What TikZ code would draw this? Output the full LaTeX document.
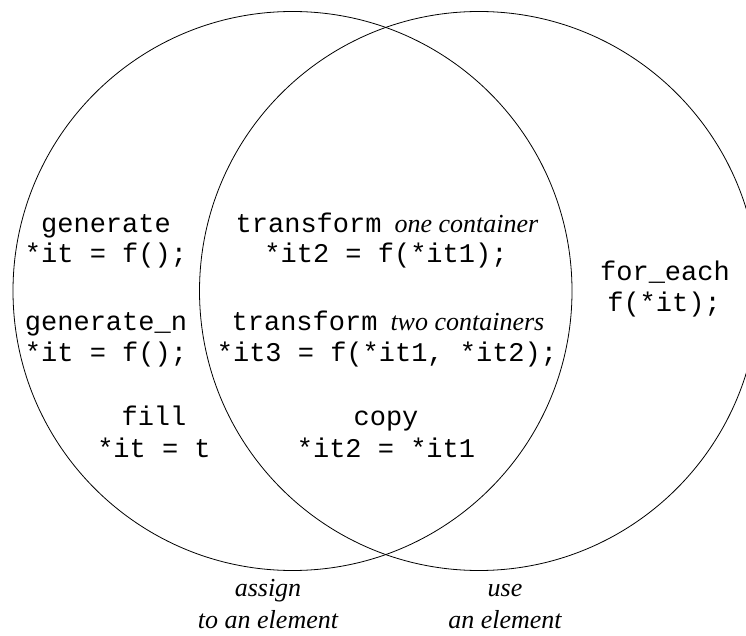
\documentclass[tikz,border=0pt]{standalone}
\usepackage{fontspec}
\setmainfont{Liberation Serif}
\setmonofont{Liberation Mono}
\newcommand{\venitalic}[1]{{\fontsize{26}{33}\selectfont\rmfamily\itshape #1}}
\tikzset{
  codetxt/.style={font=\fontsize{27}{31}\selectfont\ttfamily, anchor=base, inner sep=0pt},
  notetxt/.style={font=\fontsize{26}{33}\selectfont\rmfamily\itshape, anchor=base, inner sep=0pt},
  vennset/.style={circle, draw, line width=0.8pt, minimum size=559pt, inner sep=0pt},
}
\begin{document}
\begin{tikzpicture}[x=1pt,y=1pt]
\clip (0,0) rectangle (746,635);
% the two sets
\node[vennset] (assignset) at (292.5,344) {};
\node[vennset] (useset) at (479,344) {};
% left only
\node[codetxt] (gen) at (106,402) {generate};
\node[codetxt] (genf) at (106,372) {*it = f();};
\node[codetxt] (genn) at (106,305) {generate\_n};
\node[codetxt] (gennf) at (106,274) {*it = f();};
\node[codetxt] (fill) at (154,210) {fill};
\node[codetxt] (fillf) at (154,178) {*it = t};
% intersection
\node[codetxt] (tr1) at (387,402) {transform\hspace{13pt}\venitalic{one container}};
\node[codetxt] (tr1f) at (386,372) {*it2 = f(*it1);};
\node[codetxt] (tr2) at (388,305) {transform\hspace{13pt}\venitalic{two containers}};
\node[codetxt] (tr2f) at (387,274) {*it3 = f(*it1, *it2);};
\node[codetxt] (copy) at (386,210) {copy};
\node[codetxt] (copyf) at (386,178) {*it2 = *it1};
% right only
\node[codetxt] (fe) at (665,354) {for\_each};
\node[codetxt] (fef) at (664,323) {f(*it);};
% captions
\node[notetxt] (assign1) at (268,39) {assign};
\node[notetxt] (assign2) at (268,7) {to an element};
\node[notetxt] (use1) at (505,39) {use};
\node[notetxt] (use2) at (505,7) {an element};
\end{tikzpicture}
\end{document}
